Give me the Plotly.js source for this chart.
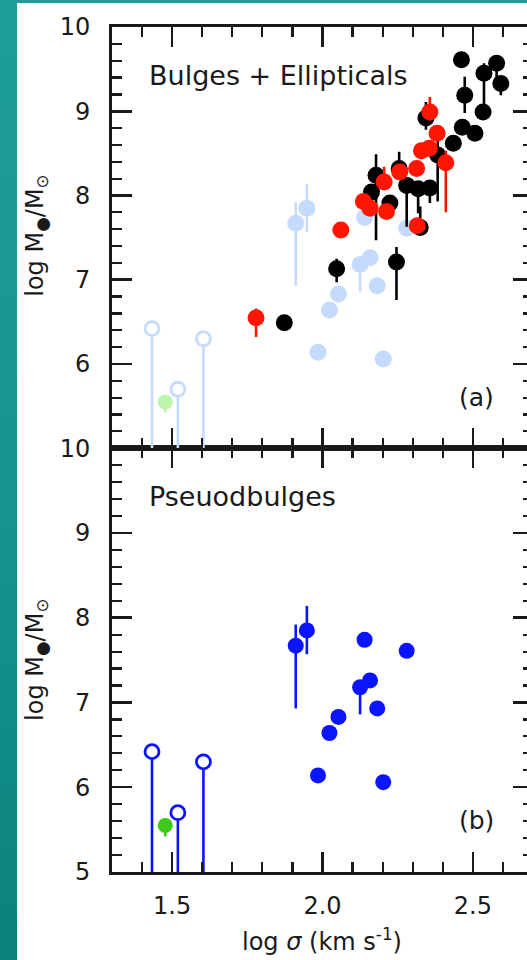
<!DOCTYPE html>
<html>
<head>
<meta charset="utf-8">
<script src="https://cdn.plot.ly/plotly-3.0.1.min.js"></script>
<style>
  html, body { margin: 0; padding: 0; width: 527px; height: 960px; overflow: hidden;
    background: linear-gradient(to bottom, #1f9d98 0%, #16938e 55%, #0b827c 100%); }
  #chart { position: absolute; left: 17px; top: 3px; width: 525px; height: 957px; background: #fff; }
</style>
</head>
<body>
<div id="chart"></div>
<script>
// Pseudobulges: log sigma, log M_BH and asymmetric errors
const pseudoSigma = [1.911, 1.948, 2.140, 2.280, 2.125, 2.158, 2.182, 2.053, 2.023, 1.985, 2.202];
const pseudoMass  = [7.67, 7.85, 7.74, 7.61, 7.18, 7.26, 6.93, 6.83, 6.64, 6.14, 6.06];
const pseudoErrUp = [0.25, 0.29, 0, 0, 0.04, 0, 0, 0, 0, 0, 0];
const pseudoErrDn = [0.74, 0.28, 0, 0, 0.32, 0, 0, 0, 0, 0, 0];

// Upper limits (open circles) and the single green object
const limitSigma = [1.433, 1.519, 1.604];
const limitMass  = [6.42, 5.70, 6.30];
const greenSigma = [1.477];
const greenMass  = [5.55];
const greenErrDn = [0.13];

// Classical bulges and ellipticals (black)
const classicSigma = [1.873, 2.047, 2.246, 2.325, 2.163, 2.178, 2.224, 2.255, 2.280, 2.318, 2.357,
                      2.344, 2.383, 2.435, 2.465, 2.507, 2.462, 2.473, 2.537, 2.534, 2.579, 2.593];
const classicMass  = [6.49, 7.13, 7.21, 7.62, 8.04, 8.24, 7.91, 8.32, 8.12, 8.08, 8.09,
                      8.92, 8.48, 8.62, 8.81, 8.74, 9.61, 9.19, 9.45, 8.99, 9.57, 9.33];
const classicErrUp = [0, 0.12, 0.18, 0.25, 0.04, 0.25, 0.04, 0.20, 0.04, 0.04, 0.04,
                      0.19, 0.18, 0, 0.04, 0, 0, 0.22, 0.12, 0, 0, 0];
const classicErrDn = [0, 0.16, 0.45, 0.05, 0.05, 0.77, 0.05, 0.10, 0.49, 0.29, 0.18,
                      0.14, 0.55, 0, 0, 0, 0, 0.21, 0.45, 0, 0.25, 0.14];

// Red subsample
const redSigma = [1.779, 2.061, 2.315, 2.136, 2.158, 2.213, 2.205, 2.257, 2.313, 2.329, 2.355, 2.381, 2.357, 2.410];
const redMass  = [6.55, 7.59, 7.64, 7.93, 7.85, 7.81, 8.16, 8.28, 8.32, 8.53, 8.56, 8.74, 8.99, 8.39];
const redErrUp = [0.11, 0, 0, 0, 0, 0, 0.18, 0, 0, 0, 0, 0, 0.18, 0.14];
const redErrDn = [0.23, 0, 0, 0, 0, 0, 0, 0, 0, 0, 0, 0, 0.10, 0.59];

const yMin = 5, yMax = 10;
const xMin = 1.3, xMax = 2.7;

const FONT = 'DejaVu Sans, sans-serif';
const INK = '#1a1a1a';

const C = {
  blue: '#0a14ff', lightBlue: '#c5daff',
  green: '#3ec81a', lightGreen: '#bdf5ad',
  red: '#ff1500', black: '#000000'
};

function points(x, y, up, dn, color, size, xa, ya) {
  return {
    type: 'scatter', mode: 'markers', x: x, y: y, xaxis: xa, yaxis: ya,
    marker: { color: color, size: size, line: { width: 0 } },
    error_y: { type: 'data', symmetric: false, array: up, arrayminus: dn,
               color: color, thickness: 2.6, width: 0 },
    hoverinfo: 'skip', showlegend: false
  };
}

function limits(color, xa, ya) {
  return {
    type: 'scatter', mode: 'markers', x: limitSigma, y: limitMass, xaxis: xa, yaxis: ya,
    marker: { color: '#ffffff', size: 14, line: { color: color, width: 2.8 } },
    error_y: { type: 'data', symmetric: false, array: limitMass.map(() => 0),
               arrayminus: limitMass.map(v => v - yMin), color: color, thickness: 2.6, width: 0 },
    hoverinfo: 'skip', showlegend: false
  };
}

const data = [
  // panel (a): bulges + ellipticals, pseudobulges shown faint
  points(pseudoSigma, pseudoMass, pseudoErrUp, pseudoErrDn, C.lightBlue, 17, 'x2', 'y2'),
  limits(C.lightBlue, 'x2', 'y2'),
  points(greenSigma, greenMass, [0], greenErrDn, C.lightGreen, 15, 'x2', 'y2'),
  points(classicSigma, classicMass, classicErrUp, classicErrDn, C.black, 17, 'x2', 'y2'),
  points(redSigma, redMass, redErrUp, redErrDn, C.red, 17, 'x2', 'y2'),
  // panel (b): pseudobulges
  points(pseudoSigma, pseudoMass, pseudoErrUp, pseudoErrDn, C.blue, 16, 'x', 'y'),
  limits(C.blue, 'x', 'y'),
  points(greenSigma, greenMass, [0], greenErrDn, C.green, 15, 'x', 'y')
];

const axisCommon = {
  showline: true, linecolor: INK, linewidth: 3, mirror: 'ticks',
  ticks: 'inside', tickcolor: INK, tickwidth: 2.5, ticklen: 20,
  showgrid: false, zeroline: false, fixedrange: true,
  tickfont: { family: FONT, size: 24, color: INK }
};

const xAxisBase = Object.assign({}, axisCommon, {
  range: [xMin, xMax], tickvals: [1.5, 2.0, 2.5], ticktext: ['1.5', '2.0', '2.5'],
  minor: { dtick: 0.1, tick0: 1.3, ticks: 'inside', ticklen: 10, tickwidth: 2.2, tickcolor: INK, showgrid: false },
  ticklabelstandoff: 10
});

const yAxisBase = Object.assign({}, axisCommon, {
  range: [yMin, yMax],
  minor: { dtick: 0.2, tick0: 5, ticks: 'inside', ticklen: 10, tickwidth: 2.2, tickcolor: INK, showgrid: false },
  ticklabelstandoff: 14
});

const layout = {
  width: 525, height: 957,
  margin: { l: 95, r: 9, t: 24, b: 88 },
  paper_bgcolor: '#ffffff', plot_bgcolor: '#ffffff',
  xaxis: Object.assign({}, xAxisBase, { anchor: 'y', domain: [0, 1] }),
  xaxis2: Object.assign({}, xAxisBase, { anchor: 'y2', matches: 'x', showticklabels: false }),
  yaxis: Object.assign({}, yAxisBase, { domain: [0, 0.5015], anchor: 'x', tickvals: [5, 6, 7, 8, 9, 10] }),
  yaxis2: Object.assign({}, yAxisBase, { domain: [0.5015, 1], anchor: 'x2', tickvals: [6, 7, 8, 9, 10] }),
  annotations: [
    { text: 'Bulges + Ellipticals', xref: 'paper', yref: 'paper', x: 0.083, y: 0.943,
      xanchor: 'left', yanchor: 'middle', showarrow: false, font: { family: FONT, size: 27, color: INK } },
    { text: 'Pseuodbulges', xref: 'paper', yref: 'paper', x: 0.083, y: 0.444,
      xanchor: 'left', yanchor: 'middle', showarrow: false, font: { family: FONT, size: 27, color: INK } },
    { text: '(a)', xref: 'paper', yref: 'paper', x: 0.865, y: 0.561,
      xanchor: 'center', yanchor: 'middle', showarrow: false, font: { family: FONT, size: 25, color: INK } },
    { text: '(b)', xref: 'paper', yref: 'paper', x: 0.865, y: 0.0615,
      xanchor: 'center', yanchor: 'middle', showarrow: false, font: { family: FONT, size: 25, color: INK } },
    { text: 'log M<sub>●</sub>/M<sub>⊙</sub>', xref: 'paper', yref: 'paper', x: -0.178, y: 0.753,
      xanchor: 'center', yanchor: 'middle', textangle: -90, showarrow: false, font: { family: FONT, size: 24, color: INK } },
    { text: 'log M<sub>●</sub>/M<sub>⊙</sub>', xref: 'paper', yref: 'paper', x: -0.178, y: 0.251,
      xanchor: 'center', yanchor: 'middle', textangle: -90, showarrow: false, font: { family: FONT, size: 24, color: INK } },
    { text: 'log <i>σ</i> (km s<sup>-1</sup>)', xref: 'paper', yref: 'paper', x: 0.499, y: -0.080,
      xanchor: 'center', yanchor: 'middle', showarrow: false, font: { family: FONT, size: 24, color: INK } }
  ]
};

Plotly.newPlot('chart', data, layout, { staticPlot: true, displayModeBar: false });
</script>
</body>
</html>
